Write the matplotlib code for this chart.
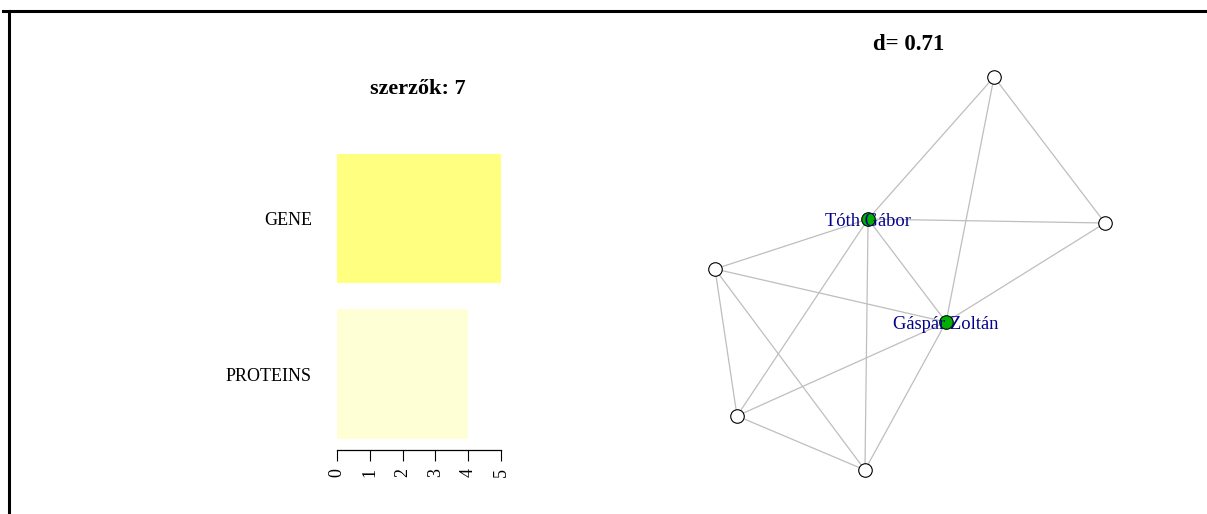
import numpy as np
import matplotlib
matplotlib.use("Agg")
import matplotlib.pyplot as plt
from matplotlib.lines import Line2D

plt.rcParams['font.family'] = ['Liberation Serif', 'DejaVu Serif']

W, H = 1207, 514

# bar chart data
categories = ['PROTEINS', 'GENE']
counts = [4, 5]
bar_colors = ['#FFFFD5', '#FFFF80']
bar_title = 'szerzők: 7'

# network data (layout coords, rescaled to -1..1)
node_x = [0.431, 1.0, -0.215, -1.0, 0.185, -0.887, -0.231]
node_y = [1.0, 0.257, 0.277, 0.023, -0.247, -0.725, -1.0]
node_names = ['', '', 'Tóth Gábor', '', 'Gáspár Zoltán', '', '']
highlight = [False, False, True, False, True, False, False]
edges = [(0, 2), (0, 1), (0, 4), (2, 1), (2, 3), (2, 4), (2, 5), (2, 6),
         (1, 4), (3, 4), (3, 5), (3, 6), (5, 4), (5, 6), (4, 6)]
net_title = 'd= 0.71'


def px_box(x0, y0, x1, y1):
    # pixel box (top-left origin) -> figure fraction rect
    return [x0 / W, 1 - y1 / H, (x1 - x0) / W, (y1 - y0) / H]


fig = plt.figure(figsize=(W / 100, H / 100), dpi=100)

# ---- barplot
ax = fig.add_axes(px_box(337, 128, 501, 450))
ypos = [0.7, 1.9]
ax.barh(ypos, counts, height=1.0, color=bar_colors, edgecolor='none')
ax.set_xlim(0, 5)
ax.set_ylim(0.115, 2.6)
for s in ['top', 'right', 'left']:
    ax.spines[s].set_visible(False)
ax.spines['bottom'].set_linewidth(0.9)
ax.set_xticks(range(6))
ax.set_xticklabels([str(i) for i in range(6)], rotation=90, fontsize=13)
ax.tick_params(axis='x', direction='out', length=8, width=0.8, pad=5)
ax.set_yticks(ypos)
ax.set_yticklabels(categories, fontsize=13)
ax.tick_params(axis='y', length=0, pad=18)
fig.text(418 / W, 1 - 89 / H, bar_title, ha='center', va='center',
         fontsize=16, fontweight='bold')

# ---- network
nx = fig.add_axes(px_box(715, 77, 1105, 470))
nx.set_xlim(-1, 1)
nx.set_ylim(-1, 1)
nx.axis('off')
for a, b in edges:
    nx.plot([node_x[a], node_x[b]], [node_y[a], node_y[b]],
            color='#bebebe', lw=0.9, zorder=1, clip_on=False)
for i in range(len(node_x)):
    fc = '#00b000' if highlight[i] else 'white'
    nx.scatter(node_x[i], node_y[i], s=95, facecolor=fc, edgecolor='black',
               linewidth=0.8, zorder=2, clip_on=False)
    if node_names[i]:
        nx.text(node_x[i], node_y[i], node_names[i], ha='center',
                va='center_baseline', color='#00008B', fontsize=13.3, zorder=3)
fig.text(909 / W, 1 - 45 / H, net_title, ha='center', va='center',
         fontsize=16.5, fontweight='bold')

# frame lines from the cropped device
fig.add_artist(Line2D([3 / W, 1], [1 - 10.5 / H] * 2, lw=2.2, color='black',
                      transform=fig.transFigure))
fig.add_artist(Line2D([8.5 / W] * 2, [0, 1 - 10.5 / H], lw=2.2, color='black',
                      transform=fig.transFigure))

fig.savefig('out.png', dpi=100)
